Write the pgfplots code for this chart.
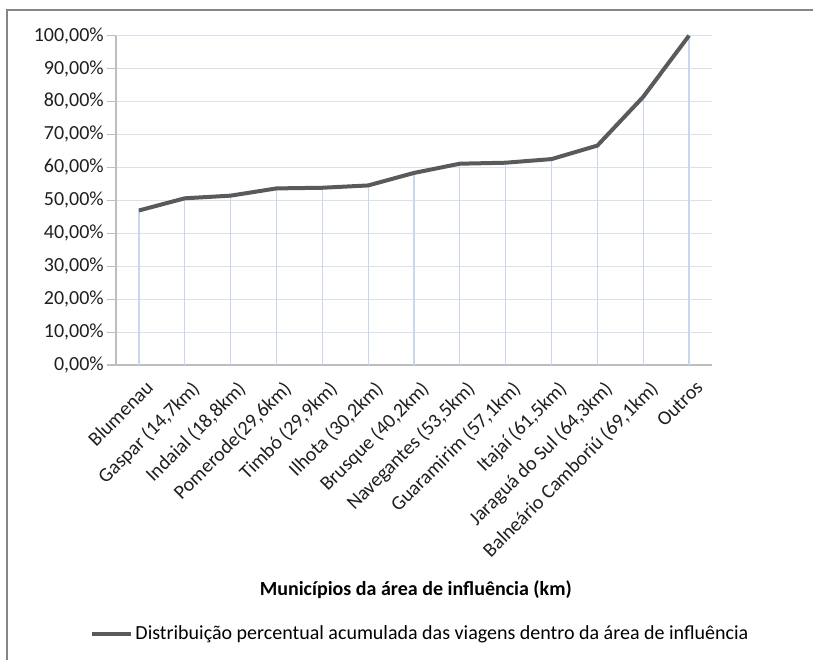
\documentclass[border=0pt]{standalone}
\usepackage{pgfplots}
\pgfplotsset{compat=1.18}
\usepackage{fontspec}
\setmainfont{Carlito}

\definecolor{linegray}{RGB}{90,90,90}
\definecolor{gridblue}{RGB}{217,225,240}
\definecolor{dropblue}{RGB}{200,214,238}
\definecolor{axisgray}{RGB}{190,190,190}
\definecolor{framegray}{RGB}{134,134,134}

% cumulative share of trips, by municipality (ordered by distance)
\pgfplotstableread{
x  y
0  46.9
1  50.6
2  51.4
3  53.6
4  53.8
5  54.5
6  58.3
7  61.1
8  61.4
9  62.5
10 66.6
11 81.4
12 100
}\acumulada

\newcommand{\chartfont}{\fontsize{15}{18}\selectfont}

\begin{document}
\begin{tikzpicture}
\useasboundingbox (0,0) rectangle (609.75pt,-495pt);
% outer chart frame
\draw[framegray, line width=0.9pt] (5.25pt,-495pt) -- (5.25pt,-7.5pt) -- (609.75pt,-7.5pt);
\begin{axis}[
  at={(87pt,-273.75pt)}, anchor=south west,
  scale only axis, width=447pt, height=247.1pt,
  xmin=-0.5, xmax=12.5, ymin=0, ymax=100,
  axis x line*=bottom, axis y line*=left,
  axis line style={axisgray, line width=0.8pt},
  xtick=data,
  xticklabels={Blumenau, {Gaspar (14,7km)}, {Indaial (18,8km)}, {Pomerode(29,6km)},
    {Timbó (29,9km)}, {Ilhota (30,2km)}, {Brusque (40,2km)}, {Navegantes (53,5km)},
    {Guaramirim (57,1km)}, {Itajaí (61,5km)}, {Jaraguá do Sul (64,3km)},
    {Balneário Camboriú (69,1km)}, Outros},
  xticklabel style={rotate=45, anchor=north east, inner sep=1pt, yshift=-4.5pt, xshift=1.5pt,
    font=\chartfont, text=black!88},
  x tick style={draw=none},
  ytick={0,10,...,100},
  yticklabel={\pgfmathprintnumber[fixed,fixed zerofill,precision=2,use comma]{\tick}\%},
  /pgf/number format/assume math mode=true,
  yticklabel style={font=\chartfont, text=black!88, inner sep=2pt},
  y tick style={axisgray, line width=0.8pt},
  tick align=outside, major tick length=7pt,
  ymajorgrids, grid style={gridblue, line width=0.8pt},
  xlabel={Municípios da área de influência (km)},
  xlabel style={at={(axis description cs:0.503,-0.683)}, anchor=center, font=\bfseries\chartfont, text=black},
  legend style={at={(axis description cs:0.511,-0.816)}, anchor=center, draw=none, fill=none,
    font=\chartfont, inner sep=0pt},
  legend cell align=left,
  legend image code/.code={\draw[linegray, line width=3pt] (0pt,0pt) -- (29pt,0pt);},
  clip=false,
]
\addplot[ycomb, dropblue, line width=0.9pt, forget plot] table {\acumulada};
\addplot[linegray, line width=3pt, line join=round] table {\acumulada};
\addlegendentry{Distribuição percentual acumulada das viagens dentro da área de influência}
\end{axis}
\end{tikzpicture}
\end{document}
